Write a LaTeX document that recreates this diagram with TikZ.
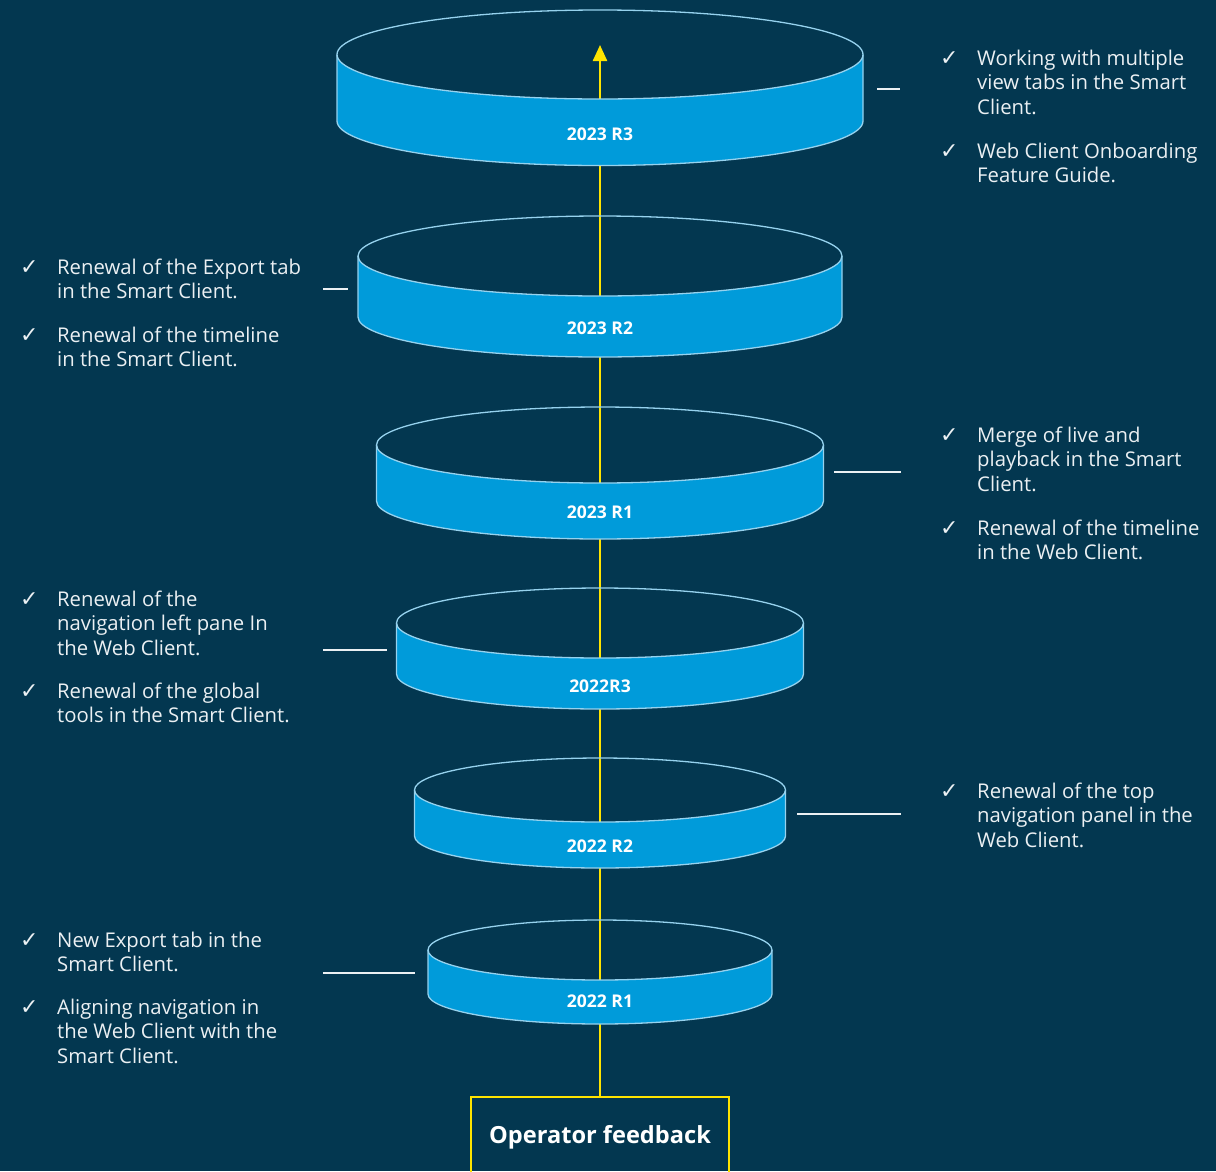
\documentclass[tikz,border=0pt]{standalone}
\usepackage{fontspec}
\setmainfont{Open Sans}
\newfontfamily\symfont{DejaVu Sans}
\usetikzlibrary{arrows.meta}
\definecolor{bg}{RGB}{3,55,80}
\definecolor{band}{RGB}{0,155,218}
\definecolor{rim}{RGB}{150,210,238}
\definecolor{gold}{RGB}{255,228,0}
\definecolor{txt}{RGB}{235,240,243}
\tikzset{
  rimline/.style={draw=rim, line width=1.3pt},
  disclabel/.style={text=white, font=\bfseries\fontsize{17.5}{20}\selectfont, anchor=base, inner sep=0pt},
  chk/.style={text=txt, font=\symfont\fontsize{22}{22}\selectfont, anchor=base west, inner sep=0pt},
  itm/.style={text=txt, font=\fontsize{20.3}{24.7}\selectfont, anchor=base west, inner sep=0pt},
  tick/.style={draw=txt, line width=1.2pt},
  spine/.style={draw=gold, line width=2.4pt},
  fbbox/.style={draw=gold, line width=2pt, minimum width=258pt, minimum height=90pt, inner sep=0pt},
  fblabel/.style={text=white, font=\bfseries\fontsize{23.6}{26}\selectfont, anchor=base, inner sep=0pt}
}
\newcommand{\mydisc}[4]{% rx, yt, yb, ry
  \fill[band] (600-#1,#2) arc[start angle=180,end angle=0,x radius=#1,y radius=#4]
     -- (600+#1,#3) arc[start angle=0,end angle=180,x radius=#1,y radius=#4] -- cycle;
  \draw[rimline] (600,#2) ellipse[x radius=#1,y radius=#4];
  \draw[rimline] (600-#1,#2) -- (600-#1,#3) arc[start angle=180,end angle=0,x radius=#1,y radius=#4] -- (600+#1,#2);
}
\newcommand{\bul}[4]{% name, x, baseline y, text
  \node[chk] (#1c) at (#2-37,#3) {✓};
  \node[itm] (#1) at (#2,#3) {\parbox[t]{300pt}{\raggedright #4}};
}
\begin{document}
\begin{tikzpicture}[x=1pt,y=-1pt]
\useasboundingbox (0,0) rectangle (1216,1171);
\fill[bg] (0,0) rectangle (1216,1171);

% feedback box and spine
\node[fbbox] (fb) at (600,1142) {};
\node[fblabel] (fbt) at (600,1143) {Operator feedback};
\coordinate (tip) at (600,45);
\draw[spine, -{Triangle[width=14pt,length=16pt]}] (fb.north) -- (tip);

% discs
\mydisc{263}{54.5}{121}{44.5}
\mydisc{242}{256}{317}{40}
\mydisc{223.5}{445}{501}{38}
\mydisc{203.5}{623}{674}{35}
\mydisc{185.5}{790}{836}{32}
\mydisc{172}{950}{994}{30}

\node[disclabel] (d1) at (600,140) {2023 R3};
\node[disclabel] (d2) at (600,334) {2023 R2};
\node[disclabel] (d3) at (600,518) {2023 R1};
\node[disclabel] (d4) at (600,692) {2022R3};
\node[disclabel] (d5) at (600,852) {2022 R2};
\node[disclabel] (d6) at (600,1007) {2022 R1};

% connector ticks
\coordinate (t1a) at (877,89);  \coordinate (t1b) at (900,89);
\coordinate (t2a) at (323,289); \coordinate (t2b) at (348,289);
\coordinate (t3a) at (834,472); \coordinate (t3b) at (901,472);
\coordinate (t4a) at (323,650); \coordinate (t4b) at (387,650);
\coordinate (t5a) at (797,814); \coordinate (t5b) at (901,814);
\coordinate (t6a) at (323,973); \coordinate (t6b) at (415,973);
\draw[tick] (t1a) -- (t1b);
\draw[tick] (t2a) -- (t2b);
\draw[tick] (t3a) -- (t3b);
\draw[tick] (t4a) -- (t4b);
\draw[tick] (t5a) -- (t5b);
\draw[tick] (t6a) -- (t6b);

% lists
\bul{r1a}{977}{65}{Working with multiple\\view tabs in the Smart\\Client.}
\bul{r1b}{977}{158}{Web Client Onboarding\\Feature Guide.}
\bul{l2a}{57}{274}{Renewal of the Export tab\\in the Smart Client.}
\bul{l2b}{57}{342}{Renewal of the timeline\\in the Smart Client.}
\bul{r3a}{977}{442}{Merge of live and\\playback in the Smart\\Client.}
\bul{r3b}{977}{535}{Renewal of the timeline\\in the Web Client.}
\bul{l4a}{57}{606}{Renewal of the\\navigation left pane In\\the Web Client.}
\bul{l4b}{57}{698}{Renewal of the global\\tools in the Smart Client.}
\bul{r5a}{977}{798}{Renewal of the top\\navigation panel in the\\Web Client.}
\bul{l6a}{57}{947}{New Export tab in the\\Smart Client.}
\bul{l6b}{57}{1014}{Aligning navigation in\\the Web Client with the\\Smart Client.}
\end{tikzpicture}
\end{document}
